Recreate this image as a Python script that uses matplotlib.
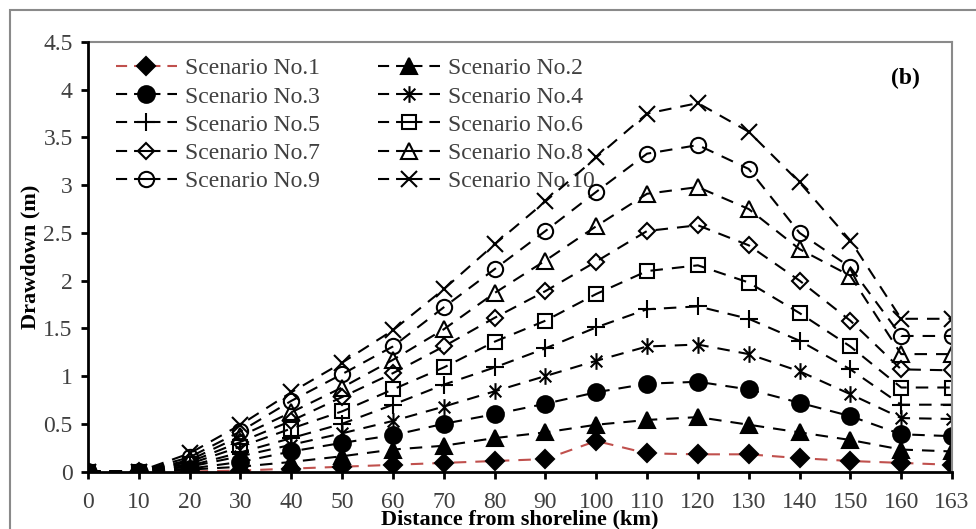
import matplotlib
matplotlib.use('Agg')
import matplotlib.pyplot as plt
from matplotlib.lines import Line2D
from matplotlib.path import Path
from matplotlib.patches import Rectangle
from matplotlib.ticker import FuncFormatter, MultipleLocator

plt.rcParams['font.family'] = ['Liberation Serif', 'DejaVu Serif']
plt.rcParams['lines.scale_dashes'] = False

distance = [0, 10, 20, 30, 40, 50, 60, 70, 80, 90, 100, 110, 120, 130, 140, 150, 160, 163]

s1 = [0, 0, 0, 0.01, 0.03, 0.05, 0.07, 0.09, 0.11, 0.13, 0.32, 0.19, 0.18, 0.18, 0.14, 0.11, 0.09, 0.07]
s2 = [0, 0, 0.02, 0.05, 0.10, 0.16, 0.23, 0.27, 0.35, 0.41, 0.49, 0.54, 0.57, 0.49, 0.41, 0.33, 0.23, 0.21]
s3 = [0, 0, 0.03, 0.10, 0.21, 0.30, 0.38, 0.50, 0.60, 0.71, 0.83, 0.92, 0.94, 0.86, 0.72, 0.58, 0.39, 0.37]
s4 = [0, 0, 0.05, 0.16, 0.28, 0.40, 0.53, 0.68, 0.84, 1.00, 1.16, 1.31, 1.33, 1.23, 1.05, 0.81, 0.56, 0.55]
s5 = [0, 0, 0.06, 0.20, 0.35, 0.50, 0.70, 0.91, 1.09, 1.29, 1.51, 1.70, 1.73, 1.60, 1.37, 1.07, 0.70, 0.70]
s6 = [0, 0, 0.08, 0.26, 0.45, 0.63, 0.86, 1.09, 1.36, 1.58, 1.86, 2.10, 2.16, 1.98, 1.66, 1.31, 0.88, 0.88]
s7 = [0, 0, 0.10, 0.31, 0.53, 0.78, 1.03, 1.31, 1.61, 1.89, 2.20, 2.52, 2.58, 2.37, 2.00, 1.58, 1.07, 1.06]
s8 = [0, 0, 0.12, 0.37, 0.62, 0.88, 1.17, 1.49, 1.87, 2.21, 2.57, 2.91, 2.98, 2.75, 2.33, 2.05, 1.23, 1.23]
s9 = [0, 0, 0.15, 0.42, 0.74, 1.02, 1.31, 1.72, 2.12, 2.52, 2.93, 3.33, 3.42, 3.17, 2.50, 2.14, 1.42, 1.42]
s10 = [0, 0, 0.19, 0.49, 0.83, 1.14, 1.48, 1.91, 2.38, 2.83, 3.29, 3.75, 3.86, 3.56, 3.03, 2.42, 1.60, 1.60]

labels = ['Scenario No.%d' % i for i in range(1, 11)]

# asterisk like the spreadsheet "star" marker
star = Path([(0, -1), (0, 1), (-0.7, -0.7), (0.7, 0.7), (-0.7, 0.7), (0.7, -0.7)],
            [Path.MOVETO, Path.LINETO, Path.MOVETO, Path.LINETO, Path.MOVETO, Path.LINETO])

red = '#C0504D'
styles = [
    dict(marker='D', mfc='black', ms=9, color=red),
    dict(marker='^', mfc='black', ms=11, color='black'),
    dict(marker='o', mfc='black', ms=12, color='black'),
    dict(marker=star, mfc='none', ms=12, color='black'),
    dict(marker='+', mfc='none', ms=13, color='black'),
    dict(marker='s', mfc='none', ms=10, color='black'),
    dict(marker='D', mfc='none', ms=8, color='black'),
    dict(marker='^', mfc='none', ms=11, color='black'),
    dict(marker='o', mfc='none', ms=11, color='black'),
    dict(marker='x', mfc='none', ms=11, color='black'),
]
series = [s1, s2, s3, s4, s5, s6, s7, s8, s9, s10]


def main():
    fig = plt.figure(figsize=(9.76, 5.29), dpi=100)
    ax = fig.add_axes([88 / 976, 1 - 471.5 / 529, (952 - 88) / 976, (471.5 - 42) / 529])

    idx = list(range(len(distance)))
    for ys, st in zip(series, styles):
        ax.plot(idx, ys, lw=1.5, dashes=(9, 6.5), mec='black', mew=1.5, **st)

    ax.set_xlim(0, len(distance) - 1)
    ax.set_ylim(0, 4.5)
    ax.set_xticks(idx)
    ax.set_xticklabels([str(d) for d in distance])
    ax.yaxis.set_major_locator(MultipleLocator(0.5))
    ax.yaxis.set_major_formatter(FuncFormatter(lambda v, p: '%g' % v))
    ax.tick_params(axis='both', labelsize=17, labelcolor='#404040', direction='out',
                   length=5, width=2, color='black')
    ax.tick_params(axis='x', pad=10)
    ax.tick_params(axis='y', pad=6)

    for side in ['left', 'bottom']:
        ax.spines[side].set_linewidth(2)
        ax.spines[side].set_color('black')
        ax.spines[side].set_zorder(5)
    for side in ['top', 'right']:
        ax.spines[side].set_linewidth(1.5)
        ax.spines[side].set_color('#8a8a8a')

    ax.set_ylabel('Drawdown (m)', fontsize=16, fontweight='bold', labelpad=2)
    ax.set_xlabel('Distance from shoreline (km)', fontsize=16, fontweight='bold', labelpad=-3)
    ax.text(0.963, 0.915, '(b)', transform=ax.transAxes, fontsize=17, fontweight='bold',
            ha='right', va='center')

    handles = []
    for st in styles:
        handles.append(Line2D([], [], lw=1.5, dashes=(8, 5, 19, 5), mec='black', mew=1.5, **st))
    # reorder so columns read 1,2 / 3,4 / ...
    order = [0, 2, 4, 6, 8, 1, 3, 5, 7, 9]
    leg = ax.legend([handles[i] for i in order], [labels[i] for i in order], ncol=2,
                    loc='upper left', bbox_to_anchor=(0.032, 0.963), frameon=False,
                    fontsize=17, handlelength=2.6, handletextpad=0.35, labelspacing=0.28,
                    columnspacing=2.45, borderpad=0, borderaxespad=0)
    for t in leg.get_texts():
        t.set_color('#404040')
    leg.set_zorder(1)

    fig.patches.append(Rectangle((10 / 976, -0.1), 1.2, 1 - 10 / 529 + 0.1, transform=fig.transFigure,
                                 fill=False, edgecolor='#8a8a8a', lw=1.5))

    fig.savefig('out.png', dpi=100)


if __name__ == '__main__':
    main()
